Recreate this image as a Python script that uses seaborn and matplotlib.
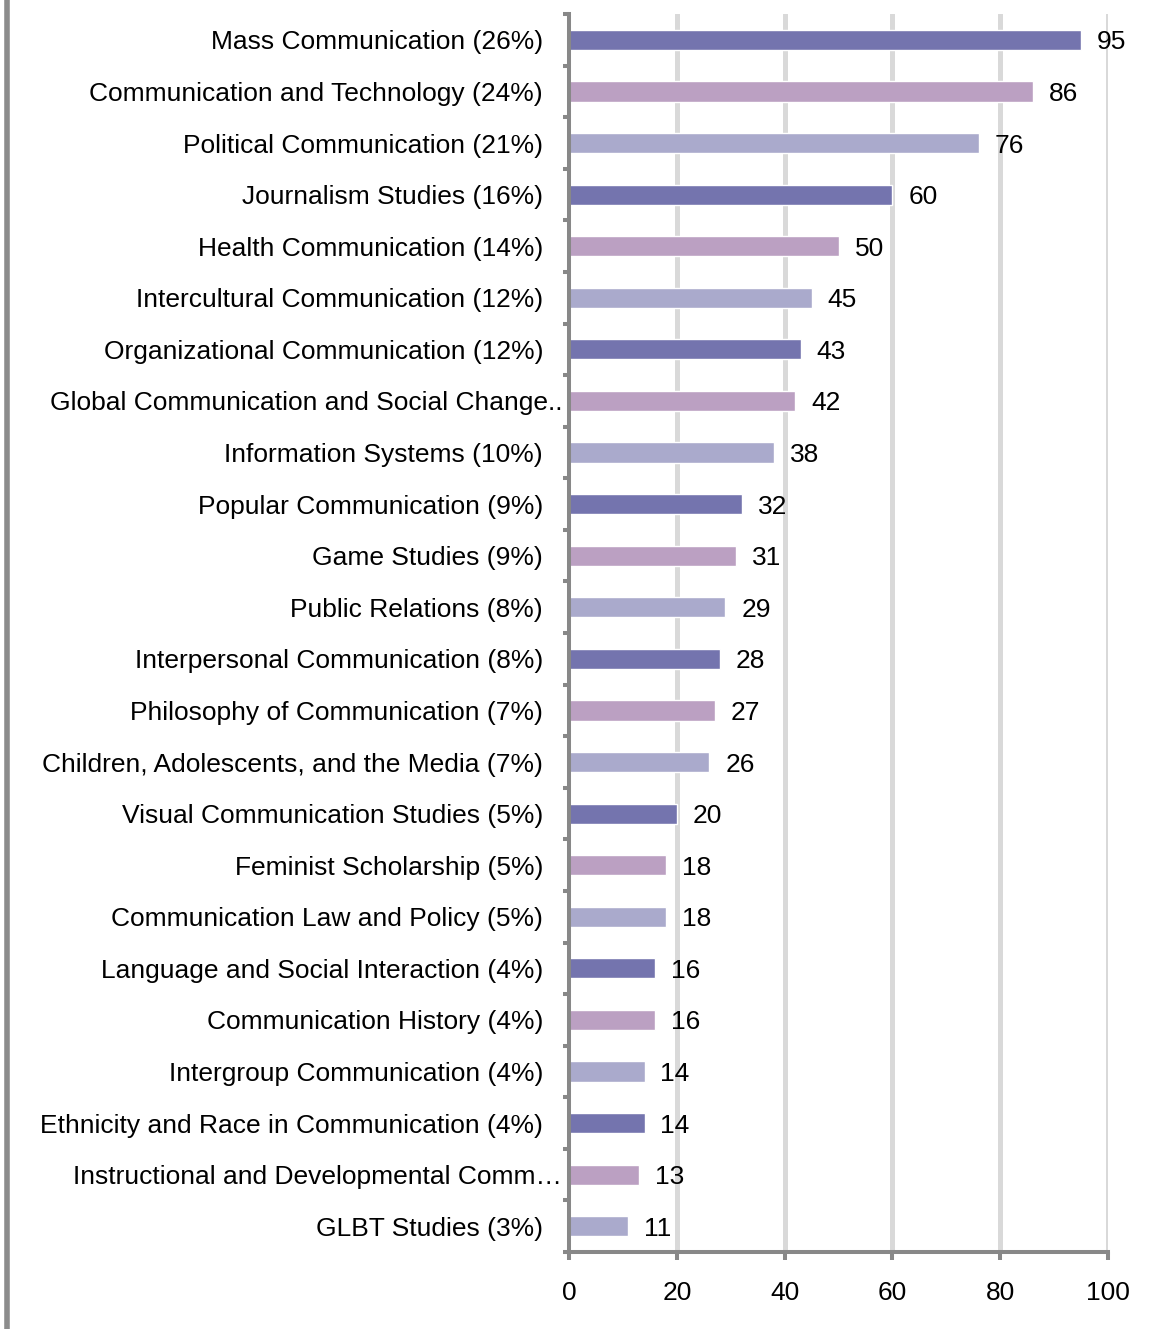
import matplotlib
matplotlib.use("Agg")
import matplotlib.pyplot as plt
from matplotlib.lines import Line2D
from matplotlib.transforms import ScaledTranslation
import seaborn as sns
import pandas as pd
import numpy as np

# data
categories = [
    "Mass Communication (26%)",
    "Communication and Technology (24%)",
    "Political Communication (21%)",
    "Journalism Studies (16%)",
    "Health Communication (14%)",
    "Intercultural Communication (12%)",
    "Organizational Communication (12%)",
    "Global Communication and Social Change..",
    "Information Systems (10%)",
    "Popular Communication (9%)",
    "Game Studies (9%)",
    "Public Relations (8%)",
    "Interpersonal Communication (8%)",
    "Philosophy of Communication (7%)",
    "Children, Adolescents, and the Media (7%)",
    "Visual Communication Studies (5%)",
    "Feminist Scholarship (5%)",
    "Communication Law and Policy (5%)",
    "Language and Social Interaction (4%)",
    "Communication History (4%)",
    "Intergroup Communication (4%)",
    "Ethnicity and Race in Communication (4%)",
    "Instructional and Developmental Comm…",
    "GLBT Studies (3%)",
]
counts = [95, 86, 76, 60, 50, 45, 43, 42, 38, 32, 31, 29, 28, 27, 26, 20, 18, 18, 16, 16, 14, 14, 13, 11]
x_ticks = [0, 20, 40, 60, 80, 100]

bar_colors = ["#7474AE", "#BBA0C2", "#AAAACC"]

df = pd.DataFrame({"category": categories, "count": counts})
palette = {c: bar_colors[i % 3] for i, c in enumerate(categories)}

sns.set_theme(style="white")
plt.rcParams["font.family"] = ["Liberation Sans", "DejaVu Sans"]
fs = 19

fig = plt.figure(figsize=(11.51, 13.29), dpi=100)
ax = fig.add_axes([0.4944, 0.0579, 0.4683, 0.9315])

sns.barplot(data=df, y="category", x="count", hue="category", palette=palette,
            order=categories, hue_order=categories, legend=False, dodge=False,
            width=0.39, saturation=1, ax=ax)

ax.set_xlim(0, 100)
ax.set_ylim(len(categories) - 0.5, -0.5)
ax.set_xticks(x_ticks)
ax.set_xticklabels([str(t) for t in x_ticks])
ax.set_xlabel("")
ax.set_ylabel("")

# vertical gridlines
ax.grid(False)
for t in x_ticks[1:]:
    ax.axvline(t, color="#D9D9D9", lw=3.6, zorder=0)

# spines
for s in ["top", "right"]:
    ax.spines[s].set_visible(False)
for s in ["left", "bottom"]:
    ax.spines[s].set_color("#888888")
    ax.spines[s].set_linewidth(2.9)
    ax.spines[s].set_zorder(3)

# category ticks sit between bars, labels drawn as text
ax.set_yticks(np.arange(-0.5, len(categories), 1.0), minor=True)
ax.set_yticklabels([])
ax.tick_params(axis="y", which="major", length=0)
ax.tick_params(axis="y", which="minor", left=True, length=4.5, width=2.9, color="#888888")
ax.tick_params(axis="x", which="major", bottom=True, length=5.8, width=2.9, color="#888888",
               pad=15, labelsize=fs, labelcolor="black")

trans = ax.get_yaxis_transform()
for i, c in enumerate(categories):
    shift = -7 / 100 if c.endswith(("..", "…")) else -26 / 100
    ax.text(0, i, c, ha="right", va="center_baseline", fontsize=fs, color="black",
            transform=trans + ScaledTranslation(shift, 0, fig.dpi_scale_trans))

for cont in ax.containers:
    for bar in cont:
        w = bar.get_width()
        y = bar.get_y() + bar.get_height() / 2
        ax.annotate(f"{w:.0f}", (w, y), xytext=(11.5, 0), textcoords="offset points",
                    ha="left", va="center_baseline", fontsize=fs, color="black")

# grey border line at the far left
fig.add_artist(Line2D([0.0065, 0.0065], [0, 1], transform=fig.transFigure,
                      color="#8C8C8C", lw=4))

fig.savefig("out.png", dpi=100, facecolor="white")
